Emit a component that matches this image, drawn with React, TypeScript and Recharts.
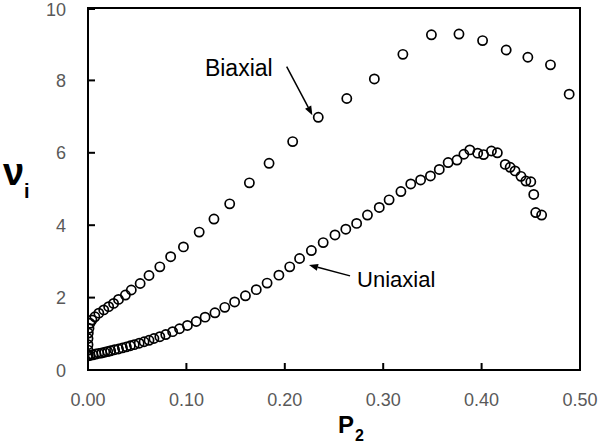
import React from 'react';
import { ScatterChart, Scatter, XAxis, YAxis, ReferenceArea, ReferenceLine } from 'recharts';

const biaxialP = [0, 0, 0, 0, 0.0003, 0.001, 0.002, 0.004, 0.007, 0.011, 0.016, 0.021, 0.026, 0.031, 0.038, 0.044, 0.053, 0.062, 0.073, 0.084, 0.097, 0.113, 0.128, 0.144, 0.164, 0.184, 0.208, 0.234, 0.263, 0.291, 0.320, 0.349, 0.377, 0.401, 0.425, 0.447, 0.470, 0.489];
const biaxialNu = [0.42, 0.55, 0.70, 0.87, 1.02, 1.15, 1.29, 1.38, 1.47, 1.57, 1.66, 1.75, 1.84, 1.95, 2.07, 2.21, 2.39, 2.61, 2.85, 3.13, 3.40, 3.81, 4.17, 4.59, 5.17, 5.71, 6.31, 6.98, 7.50, 8.04, 8.72, 9.26, 9.28, 9.10, 8.84, 8.64, 8.43, 7.62];

const uniaxialP = [0, 0.002, 0.005, 0.008, 0.011, 0.014, 0.017, 0.020, 0.023, 0.027, 0.031, 0.035, 0.039, 0.043, 0.047, 0.052, 0.057, 0.062, 0.067, 0.073, 0.079, 0.086, 0.093, 0.101, 0.110, 0.119, 0.129, 0.139, 0.149, 0.160, 0.171, 0.182, 0.194, 0.205, 0.215, 0.227, 0.239, 0.251, 0.262, 0.273, 0.284, 0.296, 0.306, 0.318, 0.328, 0.338, 0.348, 0.357, 0.366, 0.375, 0.382, 0.388, 0.396, 0.402, 0.410, 0.416, 0.424, 0.429, 0.434, 0.440, 0.445, 0.450, 0.453, 0.455, 0.461];
const uniaxialNu = [0.39, 0.40, 0.42, 0.44, 0.46, 0.47, 0.49, 0.51, 0.53, 0.56, 0.58, 0.61, 0.64, 0.67, 0.70, 0.74, 0.78, 0.82, 0.87, 0.92, 0.98, 1.06, 1.14, 1.23, 1.34, 1.46, 1.58, 1.73, 1.88, 2.05, 2.22, 2.40, 2.62, 2.85, 3.08, 3.30, 3.52, 3.73, 3.89, 4.05, 4.28, 4.49, 4.70, 4.93, 5.14, 5.25, 5.36, 5.54, 5.73, 5.80, 5.96, 6.08, 5.99, 5.95, 6.05, 6.00, 5.68, 5.60, 5.50, 5.35, 5.22, 5.20, 4.85, 4.35, 4.28];

const xTicks = [0, 0.1, 0.2, 0.3, 0.4, 0.5];
const yTicks = [0, 2, 4, 6, 8, 10];

const biaxialArrow = [{ x: 0.2019, y: 8.38 }, { x: 0.228, y: 7.04 }];
const uniaxialArrow = [{ x: 0.2663, y: 2.60 }, { x: 0.2246, y: 2.90 }];

const biaxial = biaxialP.map((p, i) => ({ p, nu: biaxialNu[i] }));
const uniaxial = uniaxialP.map((p, i) => ({ p, nu: uniaxialNu[i] }));

const FONT = 'Liberation Sans, Arial, sans-serif';

const Ring = (props: any) => (
  <circle cx={props.cx} cy={props.cy} r={4.6} fill="none" stroke="#000" strokeWidth={1.7} />
);

const XTick = (props: any) => {
  const { x, y, payload } = props;
  return (
    <g>
      <line x1={x} x2={x} y1={y} y2={y - 7} stroke="#000" strokeWidth={2} />
      <text x={x} y={y + 36} textAnchor="middle" fill="#595959" fontSize={18} fontFamily={FONT}>
        {Number(payload.value).toFixed(2)}
      </text>
    </g>
  );
};

const YTick = (props: any) => {
  const { x, y, payload } = props;
  return (
    <g>
      <line x1={x} x2={x + 7} y1={y} y2={y} stroke="#000" strokeWidth={2} />
      <text x={x - 22} y={y + 6.5} textAnchor="end" fill="#595959" fontSize={18} fontFamily={FONT}>
        {payload.value}
      </text>
    </g>
  );
};

const arrowShape = (label: string, side: 'left' | 'right') => (props: any) => {
  const { x1, y1, x2, y2 } = props;
  if ([x1, y1, x2, y2].some((v) => typeof v !== 'number' || isNaN(v))) return <g />;
  const ang = Math.atan2(y2 - y1, x2 - x1);
  const len = 9;
  const hw = 3.5;
  const bx = x2 - len * Math.cos(ang);
  const by = y2 - len * Math.sin(ang);
  const px = -Math.sin(ang) * hw;
  const py = Math.cos(ang) * hw;
  return (
    <g>
      <line x1={x1} y1={y1} x2={bx} y2={by} stroke="#000" strokeWidth={1.5} />
      <polygon points={`${x2},${y2} ${bx + px},${by + py} ${bx - px},${by - py}`} fill="#000" />
      {side === 'left' ? (
        <text x={x1 - 14} y={y1 + 9.5} textAnchor="end" fontSize={23} fontFamily={FONT} fill="#000">
          {label}
        </text>
      ) : (
        <text x={x1 + 7} y={y1 + 11} textAnchor="start" fontSize={22} fontFamily={FONT} fill="#000">
          {label}
        </text>
      )}
    </g>
  );
};

const YLabel = (props: any) => {
  const vb = props.viewBox || { x: 0, y: 8 };
  return (
    <g>
      <text x={vb.x + 3} y={vb.y + 177} fontSize={38} fontWeight="bold" fontFamily={FONT} fill="#000">ν</text>
      <text x={vb.x + 24} y={vb.y + 190} fontSize={20} fontWeight="bold" fontFamily={FONT} fill="#000">i</text>
    </g>
  );
};

const XLabel = (props: any) => {
  const vb = props.viewBox || { x: 88, y: 370 };
  return (
    <g>
      <text x={vb.x + 250} y={vb.y + 63} fontSize={24} fontWeight="bold" fontFamily={FONT} fill="#000">P</text>
      <text x={vb.x + 267} y={vb.y + 71} fontSize={16} fontWeight="bold" fontFamily={FONT} fill="#000">2</text>
    </g>
  );
};

export default function App() {
  return (
    <div style={{ position: 'absolute', left: 0, top: 0, width: 600, height: 444, background: '#fff' }}>
      <ScatterChart width={600} height={444} margin={{ top: 8, right: 20, bottom: 0, left: 0 }}>
        <XAxis
          type="number"
          dataKey="p"
          domain={[0, 0.5]}
          ticks={xTicks}
          height={74}
          tickSize={0}
          tickMargin={0}
          tickLine={false}
          tick={<XTick />}
          axisLine={{ stroke: '#000', strokeWidth: 2 }}
          allowDataOverflow
          label={{ content: <XLabel /> }}
        />
        <YAxis
          type="number"
          dataKey="nu"
          domain={[0, 10]}
          ticks={yTicks}
          width={88}
          tickSize={0}
          tickMargin={0}
          tickLine={false}
          tick={<YTick />}
          axisLine={{ stroke: '#000', strokeWidth: 2 }}
          allowDataOverflow
          label={{ content: <YLabel /> }}
        />
        <ReferenceArea x1={0} x2={0.5} y1={0} y2={10} fill="none" fillOpacity={0} stroke="#000" strokeWidth={2} strokeOpacity={1} />
        <Scatter data={uniaxial} shape={Ring} isAnimationActive={false} />
        <Scatter data={biaxial} shape={Ring} isAnimationActive={false} />
        <ReferenceLine segment={biaxialArrow} shape={arrowShape('Biaxial', 'left')} />
        <ReferenceLine segment={uniaxialArrow} shape={arrowShape('Uniaxial', 'right')} />
      </ScatterChart>
    </div>
  );
}
